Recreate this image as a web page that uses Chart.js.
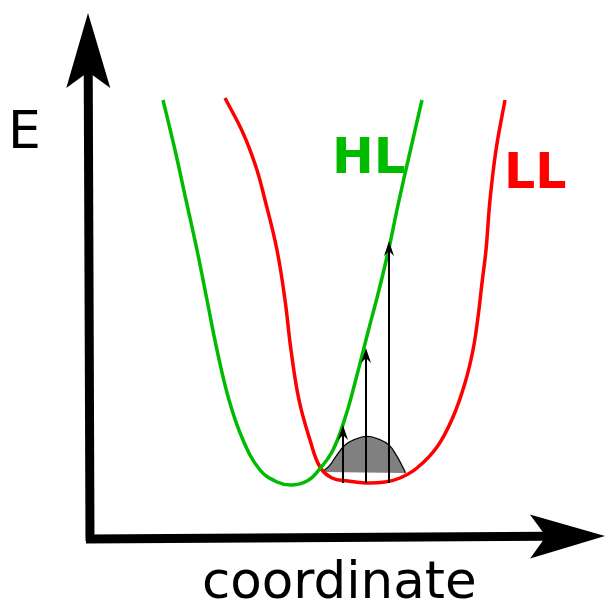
<!DOCTYPE html>
<html>
<head>
<meta charset="utf-8">
<script src="https://cdn.jsdelivr.net/npm/chart.js@4/dist/chart.umd.min.js"></script>
<style>
  html, body { margin: 0; padding: 0; background: #ffffff; }
  #wrap { width: 606px; height: 604px; position: relative; }
</style>
</head>
<body>
<div id="wrap"><canvas id="myChart"></canvas></div>
<script>
// Potential curves (coordinate, E)
const hlX = [0.73, 0.85, 0.96, 1.07, 1.17, 1.27, 1.39, 1.53, 1.70, 1.87, 2.02, 2.17, 2.28, 2.43, 2.56, 2.67, 2.78, 2.89, 2.99, 3.08, 3.20, 3.32];
const hlE = [4.38, 3.88, 3.38, 2.88, 2.38, 1.88, 1.38, 0.98, 0.68, 0.56, 0.53, 0.57, 0.67, 0.88, 1.23, 1.63, 2.06, 2.48, 2.90, 3.33, 3.86, 4.38];

const llX = [1.35, 1.53, 1.66, 1.75, 1.87, 1.95, 2.01, 2.09, 2.20, 2.30, 2.42, 2.58, 2.76, 2.95, 3.10, 3.27, 3.47, 3.63, 3.75, 3.83, 3.88, 3.92, 3.96, 4.00, 4.06, 4.15];
const llE = [4.40, 4.05, 3.71, 3.38, 2.88, 2.38, 1.88, 1.38, 0.98, 0.71, 0.60, 0.57, 0.55, 0.56, 0.60, 0.70, 0.91, 1.21, 1.55, 1.88, 2.21, 2.55, 2.88, 3.38, 3.88, 4.38];

// Ground state wavepacket
const gaussX = [2.33, 2.40, 2.47, 2.55, 2.65, 2.77, 2.89, 2.99, 3.06, 3.11, 3.15];
const gaussE = [0.66, 0.72, 0.82, 0.92, 0.98, 1.01, 0.98, 0.92, 0.82, 0.73, 0.65];

// Vertical transitions
const arrowX = [2.53, 2.76, 2.99];
const arrowBase = [0.55, 0.55, 0.55];
const arrowTop = [1.13, 1.90, 2.97];

// Axes (start point, tip)
const axisY = { from: [0.00, -0.03], to: [-0.02, 5.25] };
const axisX = { from: [-0.04, -0.01], to: [5.15, 0.02] };

// Text labels and where they sit
const labels = [
    { text: "E", x: -0.82, y: 3.90, color: "#000000", font: "52px 'DejaVu Sans'" },
    { text: "HL", x: 2.42, y: 3.65, color: "#00bb00", font: "bold 50px 'DejaVu Sans'" },
    { text: "LL", x: 4.14, y: 3.50, color: "#ff0000", font: "bold 49px 'DejaVu Sans'" },
    { text: "coordinate", x: 1.12, y: -0.60, color: "#000000", font: "51.5px 'DejaVu Sans'" }
];

function toPoints(xs, ys) {
    let pts = [];
    for (let i = 0; i < xs.length; i++) {
        pts.push({ x: xs[i], y: ys[i] });
    }
    return pts;
}

// Draw a line with a notched arrow head at the tip
function drawArrow(ctx, x0, y0, x1, y1, width, headLen, headHalf, notch) {
    let ang = Math.atan2(y1 - y0, x1 - x0);
    let cos = Math.cos(ang), sin = Math.sin(ang);
    ctx.save();
    ctx.strokeStyle = "#000000";
    ctx.fillStyle = "#000000";
    ctx.lineWidth = width;
    ctx.lineCap = "butt";
    ctx.beginPath();
    ctx.moveTo(x0, y0);
    ctx.lineTo(x1 - cos * (headLen - notch), y1 - sin * (headLen - notch));
    ctx.stroke();
    ctx.beginPath();
    ctx.moveTo(x1, y1);
    ctx.lineTo(x1 - cos * headLen - sin * headHalf, y1 - sin * headLen + cos * headHalf);
    ctx.lineTo(x1 - cos * (headLen - notch), y1 - sin * (headLen - notch));
    ctx.lineTo(x1 - cos * headLen + sin * headHalf, y1 - sin * headLen - cos * headHalf);
    ctx.closePath();
    ctx.fill();
    ctx.restore();
}

const decorPlugin = {
    id: "decor",
    afterDatasetsDraw(chart) {
        const ctx = chart.ctx;
        const sx = chart.scales.x;
        const sy = chart.scales.y;
        // transition arrows
        for (let i = 0; i < arrowX.length; i++) {
            let px = sx.getPixelForValue(arrowX[i]);
            drawArrow(ctx, px, sy.getPixelForValue(arrowBase[i]), px, sy.getPixelForValue(arrowTop[i]), 2, 15, 5, 5);
        }
        // axes
        [axisY, axisX].forEach((a) => {
            drawArrow(ctx,
                sx.getPixelForValue(a.from[0]), sy.getPixelForValue(a.from[1]),
                sx.getPixelForValue(a.to[0]), sy.getPixelForValue(a.to[1]),
                9, 75, 22, 16);
        });
        // labels
        ctx.save();
        ctx.textAlign = "left";
        ctx.textBaseline = "alphabetic";
        labels.forEach((l) => {
            ctx.font = l.font;
            ctx.fillStyle = l.color;
            ctx.fillText(l.text, sx.getPixelForValue(l.x), sy.getPixelForValue(l.y));
        });
        ctx.restore();
    }
};

window.onload = function() {
    const ctx = document.getElementById("myChart");
    const curve = { showLine: true, pointRadius: 0, tension: 0.4, fill: false };
    new Chart(ctx, {
        type: "scatter",
        data: {
            datasets: [
                Object.assign({}, curve, {
                    label: "HL",
                    data: toPoints(hlX, hlE),
                    borderColor: "#00bb00",
                    borderWidth: 3.5
                }),
                Object.assign({}, curve, {
                    label: "LL",
                    data: toPoints(llX, llE),
                    borderColor: "#ff0000",
                    borderWidth: 3.5
                }),
                Object.assign({}, curve, {
                    label: "packet fill",
                    data: toPoints(gaussX, gaussE),
                    borderWidth: 0,
                    borderColor: "rgba(0,0,0,0)",
                    backgroundColor: "#808080",
                    fill: "shape"
                }),
                Object.assign({}, curve, {
                    label: "packet",
                    data: toPoints(gaussX, gaussE),
                    borderColor: "#000000",
                    borderWidth: 2.5
                })
            ]
        },
        options: {
            responsive: true,
            maintainAspectRatio: false,
            animation: false,
            layout: { padding: 0 },
            plugins: {
                legend: { display: false },
                tooltip: { enabled: false }
            },
            scales: {
                x: { type: "linear", min: -0.90, max: 5.16, display: false },
                y: { type: "linear", min: -0.66, max: 5.38, display: false }
            }
        },
        plugins: [decorPlugin]
    });
};
</script>
</body>
</html>
